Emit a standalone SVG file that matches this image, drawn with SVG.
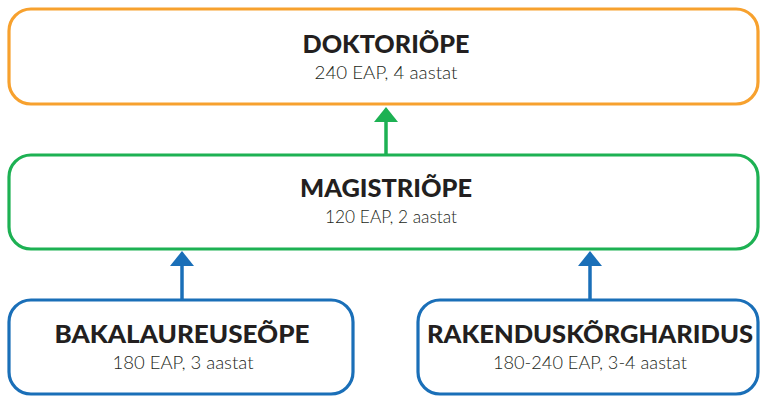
<svg xmlns="http://www.w3.org/2000/svg" width="760" height="396" viewBox="0 0 760 396">
<style>
.box{fill:#fff;stroke-width:3.2}
.o{stroke:#F7A12E}
.g{stroke:#1DB153}
.b{stroke:#1A6FB8}
.t{font-family:Lato,"Open Sans",sans-serif;font-weight:900;font-size:24px;fill:#231F20;text-anchor:middle}
.s{font-family:Lato,"Open Sans",sans-serif;font-weight:300;font-size:18.5px;fill:#231F20;text-anchor:middle}
</style>
<g id="connectors">
<line x1="386" y1="155" x2="386" y2="120" stroke="#1DB153" stroke-width="3.5"/>
<polygon points="386,107 374,122 398,122" fill="#1DB153"/>
<line x1="182" y1="300" x2="182" y2="264" stroke="#1A6FB8" stroke-width="3.5"/>
<polygon points="182,251 170,266 194,266" fill="#1A6FB8"/>
<line x1="590" y1="300" x2="590" y2="264" stroke="#1A6FB8" stroke-width="3.5"/>
<polygon points="590,251 578,266 602,266" fill="#1A6FB8"/>
</g>
<g id="doktor">
<rect class="box o" x="9" y="9" width="749" height="95" rx="22"/>
<text class="t" x="386" y="53" textLength="167" lengthAdjust="spacingAndGlyphs">DOKTORIÕPE</text>
<text class="s" x="386" y="79" textLength="143" lengthAdjust="spacingAndGlyphs">240 EAP, 4 aastat</text>
</g>
<g id="magister">
<rect class="box g" x="9" y="155" width="749" height="94" rx="22"/>
<text class="t" x="386" y="197" textLength="172" lengthAdjust="spacingAndGlyphs">MAGISTRIÕPE</text>
<text class="s" x="391" y="223" textLength="132" lengthAdjust="spacingAndGlyphs">120 EAP, 2 aastat</text>
</g>
<g id="bakalaureus">
<rect class="box b" x="9" y="300" width="344" height="94" rx="22"/>
<text class="t" x="182" y="343" textLength="255" lengthAdjust="spacingAndGlyphs">BAKALAUREUSEÕPE</text>
<text class="s" x="183" y="369" textLength="141" lengthAdjust="spacingAndGlyphs">180 EAP, 3 aastat</text>
</g>
<g id="rakendus">
<rect class="box b" x="418" y="300" width="340" height="94" rx="22"/>
<text class="t" x="590" y="343" textLength="326" lengthAdjust="spacingAndGlyphs">RAKENDUSKÕRGHARIDUS</text>
<text class="s" x="590" y="369" textLength="194" lengthAdjust="spacingAndGlyphs">180-240 EAP, 3-4 aastat</text>
</g>
</svg>
